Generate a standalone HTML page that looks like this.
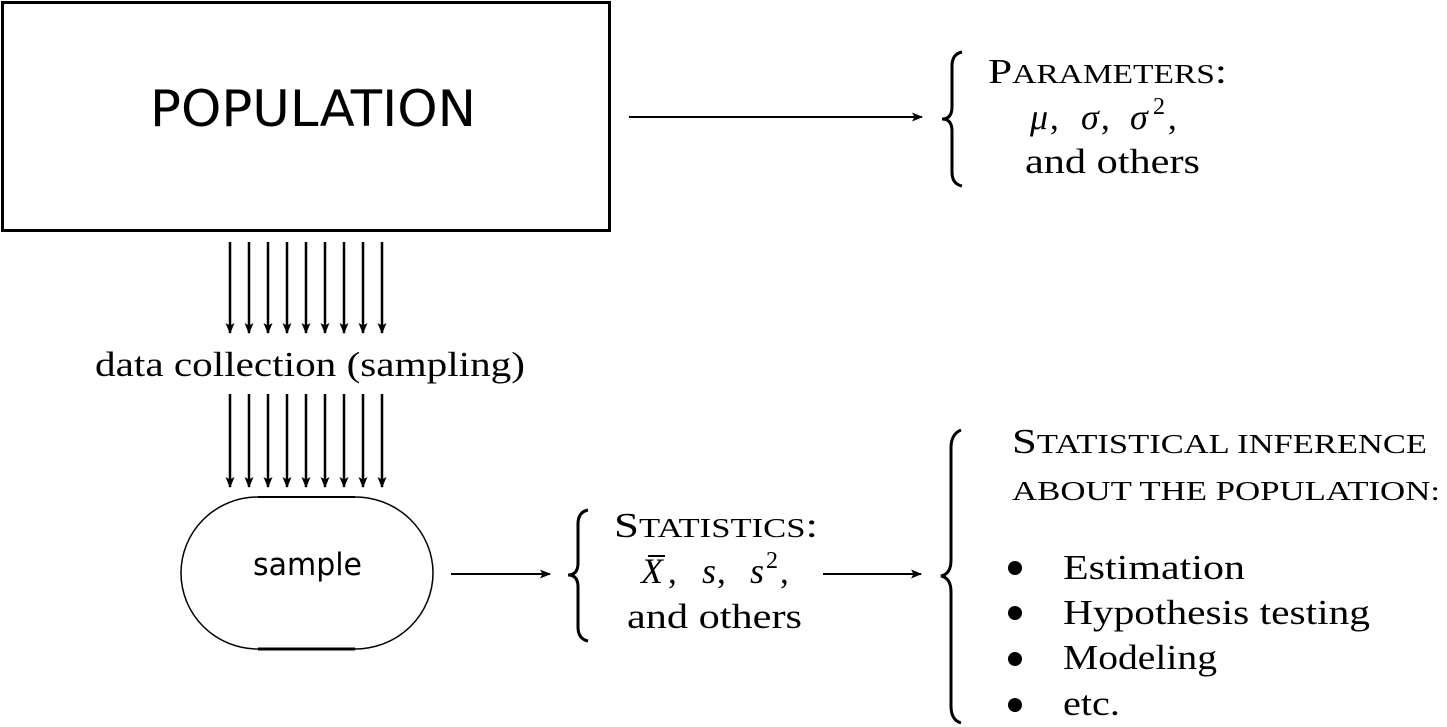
<!DOCTYPE html>
<html><head><meta charset="utf-8"><style>
html,body{margin:0;padding:0;background:#fff;}
svg{display:block;}
text{font-family:"Liberation Serif",serif;fill:#000;}
.s{font-family:"DejaVu Sans","Liberation Sans",sans-serif;}
</style></head><body>
<svg width="1447" height="727" viewBox="0 0 1447 727" xmlns="http://www.w3.org/2000/svg">
<defs>
<marker id="ah" markerWidth="11" markerHeight="9" refX="10" refY="4.5" orient="auto" markerUnits="userSpaceOnUse">
<path d="M0,0 L11,4.5 L0,9 L2.5,4.5 z" fill="#000"/>
</marker>
</defs>
<rect x="2.5" y="2.5" width="607" height="228" fill="none" stroke="#000" stroke-width="3"/>
<text class="s" x="150" y="126" font-size="50" textLength="326" lengthAdjust="spacingAndGlyphs">POPULATION</text>
<line x1="629" y1="117" x2="922" y2="117" stroke="#000" stroke-width="2" marker-end="url(#ah)"/>

<path d="M962,52 Q952,54 952,66 L952,107 Q952,119 942,119 Q952,119 952,131 L952,172 Q952,184 962,186" fill="none" stroke="#000" stroke-width="3"/>
<text x="988" y="83" font-size="35" textLength="239" lengthAdjust="spacingAndGlyphs">P<tspan font-size="27">ARAMETERS</tspan>:</text>
<text x="1030" y="129" font-size="36" font-style="italic">μ</text>
<text x="1050" y="129" font-size="35">,</text>
<text x="1081" y="129" font-size="36" font-style="italic">σ</text>
<text x="1101" y="129" font-size="35">,</text>
<text x="1130" y="129" font-size="36" font-style="italic">σ</text>
<text x="1153" y="114" font-size="24">2</text>
<text x="1168" y="129" font-size="35">,</text>
<text x="1025" y="173" font-size="35" textLength="175" lengthAdjust="spacingAndGlyphs">and others</text>

<g stroke="#000" stroke-width="2.5" marker-end="url(#ah)">
<line x1="230" y1="242" x2="230" y2="333"/><line x1="249" y1="242" x2="249" y2="333"/><line x1="268" y1="242" x2="268" y2="333"/>
<line x1="287" y1="242" x2="287" y2="333"/><line x1="306" y1="242" x2="306" y2="333"/><line x1="325" y1="242" x2="325" y2="333"/>
<line x1="344" y1="242" x2="344" y2="333"/><line x1="363" y1="242" x2="363" y2="333"/><line x1="382" y1="242" x2="382" y2="333"/>
<line x1="230" y1="394" x2="230" y2="487"/><line x1="249" y1="394" x2="249" y2="487"/><line x1="268" y1="394" x2="268" y2="487"/>
<line x1="287" y1="394" x2="287" y2="487"/><line x1="306" y1="394" x2="306" y2="487"/><line x1="325" y1="394" x2="325" y2="487"/>
<line x1="344" y1="394" x2="344" y2="487"/><line x1="363" y1="394" x2="363" y2="487"/><line x1="382" y1="394" x2="382" y2="487"/>
</g>
<text x="95" y="376" font-size="35" textLength="430" lengthAdjust="spacingAndGlyphs">data collection (sampling)</text>

<path d="M258,497 L355,497 A78,76 0 0 1 355,649 L258,649 A77,76 0 0 1 258,497 Z" fill="none" stroke="#000" stroke-width="1.5"/>
<line x1="258" y1="497" x2="355" y2="497" stroke="#000" stroke-width="2"/>
<line x1="258" y1="649" x2="355" y2="649" stroke="#000" stroke-width="3"/>
<text class="s" x="253" y="575" font-size="31" textLength="109" lengthAdjust="spacingAndGlyphs">sample</text>

<line x1="451" y1="574" x2="550" y2="574" stroke="#000" stroke-width="2" marker-end="url(#ah)"/>
<path d="M588,510 Q578,512 578,524 L578,563 Q578,575 568,575 Q578,575 578,587 L578,627 Q578,639 588,641" fill="none" stroke="#000" stroke-width="3"/>
<text x="614" y="537" font-size="35" textLength="204" lengthAdjust="spacingAndGlyphs">S<tspan font-size="27">TATISTICS</tspan>:</text>
<text x="641" y="583" font-size="36" font-style="italic">X</text>
<line x1="648" y1="556" x2="665" y2="556" stroke="#000" stroke-width="2"/>
<text x="668" y="583" font-size="35">,</text>
<text x="702" y="583" font-size="36" font-style="italic">s</text>
<text x="717" y="583" font-size="35">,</text>
<text x="750" y="583" font-size="36" font-style="italic">s</text>
<text x="766" y="568" font-size="24">2</text>
<text x="780" y="583" font-size="35">,</text>
<text x="627" y="628" font-size="35" textLength="175" lengthAdjust="spacingAndGlyphs">and others</text>

<line x1="823" y1="574" x2="921" y2="574" stroke="#000" stroke-width="2" marker-end="url(#ah)"/>
<path d="M961,430 Q951,434 951,448 L951,560 Q951,574 941,576 Q951,578 951,592 L951,706 Q951,720 961,723" fill="none" stroke="#000" stroke-width="3"/>
<text x="1012" y="453" font-size="35" textLength="415" lengthAdjust="spacingAndGlyphs">S<tspan font-size="27">TATISTICAL INFERENCE</tspan></text>
<text x="1012" y="500" font-size="27" textLength="428" lengthAdjust="spacingAndGlyphs">ABOUT THE POPULATION:</text>
<g>
<circle cx="1015" cy="568" r="7"/><circle cx="1015" cy="613" r="7"/><circle cx="1015" cy="659" r="7"/><circle cx="1015" cy="705" r="7"/>
</g>
<text x="1063" y="579" font-size="35" textLength="182" lengthAdjust="spacingAndGlyphs">Estimation</text>
<text x="1063" y="624" font-size="35" textLength="307" lengthAdjust="spacingAndGlyphs">Hypothesis testing</text>
<text x="1063" y="669" font-size="35" textLength="154" lengthAdjust="spacingAndGlyphs">Modeling</text>
<text x="1063" y="715" font-size="35" textLength="57" lengthAdjust="spacingAndGlyphs">etc.</text>
</svg>
</body></html>
